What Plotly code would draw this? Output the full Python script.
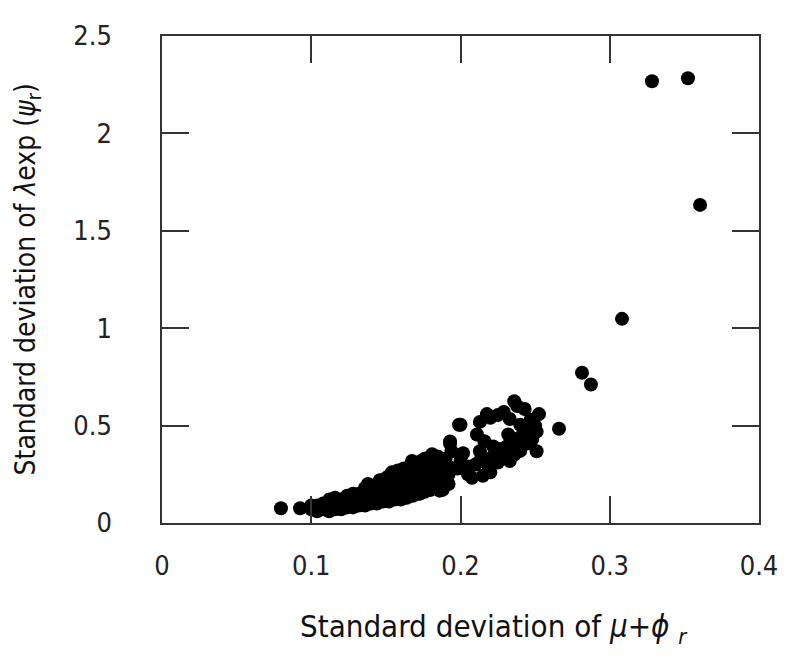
import plotly.graph_objects as go

# Outlying / sparse points (x = SD of mu+phi_r, y = SD of lambda exp(psi_r))
sparse_x = [0.0797, 0.0925, 0.3283, 0.3524, 0.3605, 0.3082, 0.2814, 0.2874, 0.2660]
sparse_y = [0.076, 0.076, 2.268, 2.283, 1.633, 1.048, 0.771, 0.711, 0.484]

# Upper cluster near 0.2-0.25
upper_x = [0.199, 0.236, 0.243, 0.2526, 0.2177, 0.225, 0.213, 0.211, 0.233, 0.240,
           0.2445, 0.251, 0.251, 0.2445, 0.232, 0.231, 0.222, 0.213, 0.213, 0.220,
           0.2265, 0.233, 0.2077, 0.215, 0.2017, 0.200, 0.193, 0.194, 0.181, 0.1675,
           0.186, 0.191, 0.1796, 0.173, 0.186, 0.180, 0.168, 0.159, 0.153, 0.164,
           0.173, 0.1675, 0.193, 0.200,
           0.220, 0.229, 0.238, 0.247, 0.250, 0.245, 0.205, 0.210, 0.218, 0.225,
           0.228, 0.236, 0.240, 0.236, 0.240, 0.198, 0.190, 0.185, 0.176, 0.205,
           0.220, 0.216, 0.226, 0.248]
upper_y = [0.504, 0.625, 0.585, 0.559, 0.559, 0.554, 0.519, 0.454, 0.534, 0.504,
           0.454, 0.469, 0.368, 0.408, 0.454, 0.393, 0.393, 0.368, 0.318, 0.333,
           0.343, 0.318, 0.232, 0.242, 0.358, 0.318, 0.408, 0.368, 0.353, 0.318,
           0.302, 0.252, 0.267, 0.252, 0.166, 0.181, 0.217, 0.252, 0.200, 0.166,
           0.151, 0.302, 0.418, 0.504,
           0.540, 0.570, 0.600, 0.530, 0.500, 0.480, 0.290, 0.300, 0.300, 0.310,
           0.360, 0.350, 0.370, 0.420, 0.440, 0.280, 0.330, 0.340, 0.330, 0.250,
           0.260, 0.420, 0.380, 0.430]

# Dense lower band
band_x = [0.100, 0.100, 0.104, 0.104, 0.108, 0.108, 0.112, 0.112, 0.112,
          0.116, 0.116, 0.116, 0.120, 0.120, 0.120, 0.124, 0.124, 0.124,
          0.128, 0.128, 0.128, 0.132, 0.132, 0.132,
          0.136, 0.136, 0.136, 0.136, 0.140, 0.140, 0.140, 0.140,
          0.144, 0.144, 0.144, 0.144, 0.148, 0.148, 0.148, 0.148,
          0.152, 0.152, 0.152, 0.152, 0.152, 0.156, 0.156, 0.156, 0.156,
          0.160, 0.160, 0.160, 0.160, 0.160, 0.164, 0.164, 0.164, 0.164,
          0.168, 0.168, 0.168, 0.168, 0.168, 0.172, 0.172, 0.172, 0.172,
          0.176, 0.176, 0.176, 0.176, 0.180, 0.180, 0.180, 0.180,
          0.184, 0.184, 0.184, 0.184, 0.188, 0.188, 0.188, 0.192, 0.192, 0.192,
          0.138, 0.146, 0.150, 0.154, 0.158, 0.162, 0.166, 0.170, 0.174, 0.178,
          0.182, 0.186, 0.190, 0.158, 0.166, 0.174, 0.182, 0.146, 0.154, 0.170]
band_y = [0.07, 0.09, 0.06, 0.09, 0.07, 0.10, 0.06, 0.09, 0.12,
          0.07, 0.10, 0.13, 0.07, 0.10, 0.12, 0.08, 0.11, 0.14,
          0.08, 0.11, 0.15, 0.09, 0.12, 0.15,
          0.09, 0.12, 0.16, 0.18, 0.10, 0.13, 0.16, 0.19,
          0.10, 0.13, 0.17, 0.20, 0.11, 0.14, 0.18, 0.21,
          0.11, 0.15, 0.19, 0.22, 0.24, 0.12, 0.15, 0.19, 0.23,
          0.12, 0.16, 0.20, 0.24, 0.26, 0.13, 0.17, 0.21, 0.25,
          0.14, 0.18, 0.22, 0.27, 0.30, 0.15, 0.19, 0.23, 0.26,
          0.16, 0.20, 0.24, 0.29, 0.17, 0.21, 0.26, 0.34,
          0.18, 0.22, 0.27, 0.31, 0.17, 0.23, 0.28, 0.20, 0.25, 0.29,
          0.20, 0.22, 0.23, 0.26, 0.27, 0.28, 0.29, 0.31, 0.32, 0.30,
          0.29, 0.26, 0.22, 0.17, 0.20, 0.22, 0.24, 0.15, 0.17, 0.28]

x_all = sparse_x + upper_x + band_x
y_all = sparse_y + upper_y + band_y

x_ticks = [0, 0.1, 0.2, 0.3, 0.4]
x_tick_labels = ["0", "0.1", "0.2", "0.3", "0.4"]
y_ticks = [0, 0.5, 1, 1.5, 2, 2.5]
y_tick_labels = ["0", "0.5", "1", "1.5", "2", "2.5"]

FONT = "Liberation Sans Narrow, DejaVu Sans Condensed, Arial Narrow, sans-serif"

fig = go.Figure()
fig.add_trace(go.Scatter(
    x=x_all, y=y_all, mode="markers",
    marker=dict(size=14, color="black", line=dict(width=0)),
    showlegend=False, hoverinfo="skip"))

axis_common = dict(
    showline=True, mirror="ticks", linecolor="#333333", linewidth=1.5,
    ticks="inside", ticklen=27, tickwidth=1.5, tickcolor="#333333",
    showgrid=False, zeroline=False,
    tickfont=dict(family=FONT, size=27, color="#222222"),
)

fig.update_xaxes(range=[0, 0.4], tickvals=x_ticks, ticktext=x_tick_labels,
                 ticklabelstandoff=18, **axis_common)
fig.update_yaxes(range=[0, 2.5], tickvals=y_ticks, ticktext=y_tick_labels,
                 ticklabelstandoff=43, **axis_common)

fig.add_annotation(
    text="Standard deviation of <i>μ</i>+<i>ϕ</i> <sub><i>r</i></sub>",
    xref="paper", yref="paper", x=0.556, y=-0.216, yanchor="middle",
    showarrow=False, font=dict(family=FONT, size=31, color="#111111"))
fig.add_annotation(
    text="Standard deviation of <i>λ</i>exp (<i>ψ</i><sub>r</sub>)",
    xref="paper", yref="paper", x=-0.2245, y=0.5, textangle=-90,
    xanchor="center", yanchor="middle",
    showarrow=False, font=dict(family=FONT, size=28, color="#111111"))

fig.update_layout(
    width=800, height=668,
    margin=dict(l=154, r=49, t=19, b=153),
    plot_bgcolor="white", paper_bgcolor="white",
)

fig.write_html("out.html")
